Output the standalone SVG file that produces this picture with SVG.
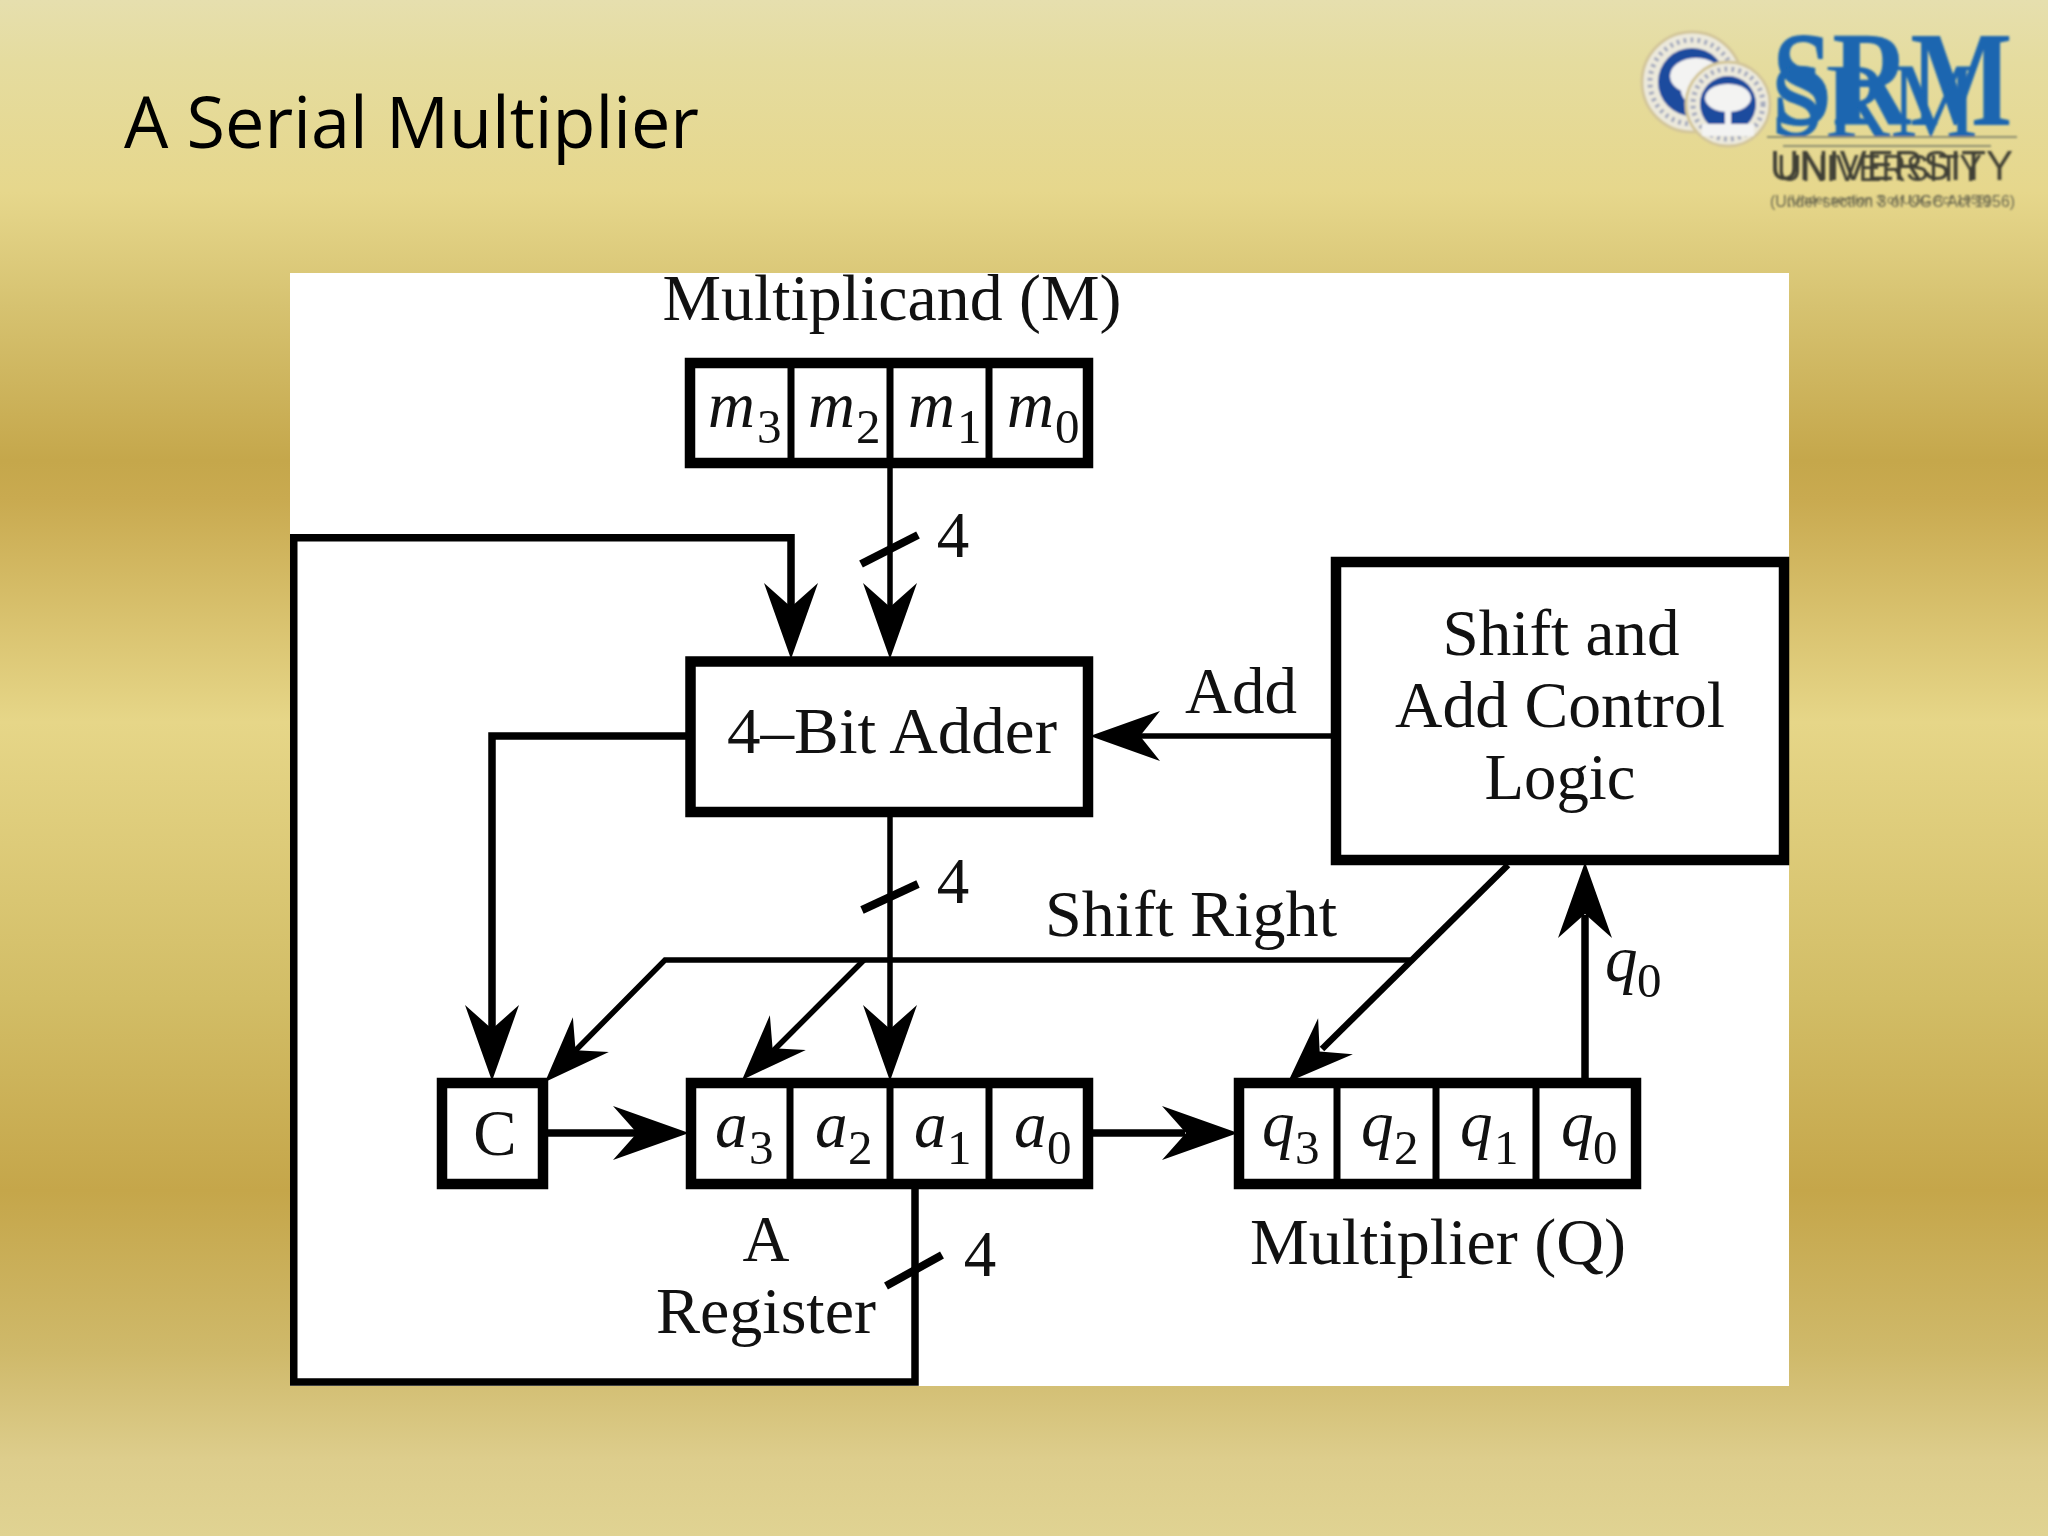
<svg xmlns="http://www.w3.org/2000/svg" width="2048" height="1536" viewBox="0 0 2048 1536">
<style>
.t{font-family:"Liberation Serif","Times New Roman",serif;font-size:65px;fill:#111;text-anchor:middle}
.i{font-family:"Liberation Serif","Times New Roman",serif;font-size:65px;font-style:italic;fill:#111}
.s{font-family:"Liberation Serif","Times New Roman",serif;font-size:49px;fill:#111}
.box{fill:#fff;stroke:#000;stroke-width:10.500}
.div{stroke:#000;stroke-width:7;fill:none}
.w{fill:none;stroke:#000;stroke-width:7.500}
.d{fill:none;stroke:#000;stroke-width:6.500}
.n{fill:none;stroke:#000;stroke-width:5.500}
.tick{fill:none;stroke:#000;stroke-width:8}
.srm{font-family:"Liberation Serif",serif;font-weight:bold;fill:#1a66b0}
.uni{font-family:"Liberation Sans",sans-serif;fill:#3f3f35}
.sec{font-family:"Liberation Sans",sans-serif;fill:#6a6850}
.ring{fill:#ece9dc;stroke:#d3c69a;stroke-width:3}
.mot{fill:none;stroke:#8f97b4;stroke-width:5;stroke-dasharray:3 4;opacity:.75}
.blue{fill:#1d4c9e}
.cloud{fill:#f3f3f2}
</style>
<defs>
<linearGradient id="bg" x1="0" y1="0" x2="0" y2="1">
<stop offset="0" stop-color="#e6dfae"/>
<stop offset="0.04" stop-color="#e5dc9f"/>
<stop offset="0.125" stop-color="#e6d78c"/>
<stop offset="0.2" stop-color="#d6c270"/>
<stop offset="0.3" stop-color="#c5a74b"/>
<stop offset="0.325" stop-color="#c9aa50"/>
<stop offset="0.47" stop-color="#e6d688"/>
<stop offset="0.65" stop-color="#d2bd66"/>
<stop offset="0.775" stop-color="#c5a64a"/>
<stop offset="0.88" stop-color="#cfb96a"/>
<stop offset="0.95" stop-color="#ddcd8c"/>
<stop offset="1" stop-color="#e0d392"/>
</linearGradient>
<polygon id="ah" points="0,0 -76,-27 -52,0 -76,27" fill="#000"/>
<polygon id="ah2" points="0,0 -70,-25 -50,0 -70,25" fill="#000"/>
<polygon id="ahd" points="0,0 -66,-25 -44,0 -66,25" fill="#000"/>
<filter id="soft" x="-5%" y="-5%" width="110%" height="110%"><feGaussianBlur stdDeviation="0.8"/></filter>
</defs>
<rect id="background" width="2048" height="1536" fill="url(#bg)"/>
<text id="title" x="124" y="148" font-family="'Open Sans','Noto Sans',sans-serif" font-size="71" fill="#000" textLength="575" lengthAdjust="spacingAndGlyphs">A Serial Multiplier</text>
<g id="logo" filter="url(#soft)">
<g id="seal-back"><circle class="ring" cx="1692" cy="82" r="50"/><circle class="mot" cx="1692" cy="82" r="42"/><circle class="blue" cx="1692" cy="82" r="34"/><ellipse class="cloud" cx="1696" cy="76" rx="26" ry="18"/><circle class="cloud" cx="1695" cy="90" r="14"/></g>
<g id="seal-front"><circle class="ring" cx="1728" cy="104" r="42"/><circle class="mot" cx="1728" cy="104" r="35"/><circle class="blue" cx="1728" cy="104" r="28"/><ellipse class="cloud" cx="1728" cy="98" rx="23" ry="14"/><rect class="cloud" x="1725" y="100" width="6" height="30"/><rect class="cloud" x="1702" y="124" width="52" height="12"/></g>
<text class="srm" transform="translate(1772,125) scale(.795,1)" font-size="136">SRM</text>
<text class="srm" style="font-weight:normal" transform="translate(1770,136) scale(.937,1)" font-size="105">SRM</text>
<rect x="1767" y="136" width="250" height="2" fill="#8f9070"/>
<rect x="1783" y="145" width="208" height="2" fill="#8f9070"/>
<text class="uni" x="1770" y="180" font-size="43" textLength="243" lengthAdjust="spacingAndGlyphs">UNIVERSITY</text>
<text class="uni" x="1777" y="181" font-size="36" textLength="205" lengthAdjust="spacingAndGlyphs">UNIVERSITY</text>
<text class="sec" x="1770" y="207" font-size="16" textLength="245" lengthAdjust="spacingAndGlyphs">(Under section 3 of UGC Act 1956)</text>
<text class="sec" x="1787" y="204" font-size="13" textLength="203" lengthAdjust="spacingAndGlyphs">(Under section 3 of UGC Act 1956)</text>
</g>
<rect id="panel" x="290" y="273" width="1499" height="1113" fill="#fff"/>
<g id="connectors">
<path class="w" d="M915,1185V1382H293.750V537.750H791V620"/>
<use href="#ah" transform="translate(791,659) rotate(90)"/>
<path class="n" d="M890,468V620"/>
<path class="tick" d="M861,564L918,535"/>
<use href="#ah" transform="translate(890,659) rotate(90)"/>
<path class="w" d="M690,736H492V1040"/>
<use href="#ah" transform="translate(492,1081) rotate(90)"/>
<path class="n" d="M1332,736H1130"/>
<use href="#ah2" transform="translate(1090,736) rotate(180)"/>
<path class="n" d="M890,815V1040"/>
<path class="tick" d="M862,910L918,884"/>
<use href="#ah" transform="translate(890,1081) rotate(90)"/>
<path class="n" d="M1410,960H665L575,1051"/>
<use href="#ahd" transform="translate(545,1082) rotate(134)"/>
<path class="n" d="M864,960L772,1052"/>
<use href="#ahd" transform="translate(742,1080) rotate(134)"/>
<path class="d" d="M1508,865L1322,1049"/>
<use href="#ahd" transform="translate(1288,1082) rotate(136)"/>
<path class="w" d="M1585,1080V915"/>
<use href="#ah" transform="translate(1585,862) rotate(-90)"/>
<path class="w" d="M548,1133H640"/>
<use href="#ah" transform="translate(689,1133)"/>
<path class="w" d="M1093,1133H1185"/>
<use href="#ah" transform="translate(1238,1133)"/>
<path class="tick" d="M886,1286L942,1255"/>
</g>
<g id="conn-labels">
<text class="t" x="953" y="557">4</text>
<text class="t" x="953" y="903">4</text>
<text class="t" x="980" y="1276">4</text>
<text class="t" x="1241" y="713">Add</text>
<text class="t" x="1191" y="936" textLength="292" lengthAdjust="spacingAndGlyphs">Shift Right</text>
<text class="i" x="1605" y="981">q</text><text class="s" x="1637" y="997">0</text>
</g>
<g id="label-multiplicand"><text class="t" x="892" y="320" textLength="459" lengthAdjust="spacingAndGlyphs">Multiplicand (M)</text></g>
<g id="register-m">
<rect class="box" x="690" y="363" width="398" height="100"/>
<path class="div" d="M791,363V463M890,363V463M989,363V463"/>
<text class="i" x="708" y="427">m</text><text class="s" x="757" y="443">3</text>
<text class="i" x="808" y="427">m</text><text class="s" x="856" y="443">2</text>
<text class="i" x="908" y="427">m</text><text class="s" x="957" y="443">1</text>
<text class="i" x="1007" y="427">m</text><text class="s" x="1055" y="443">0</text>
</g>
<g id="adder">
<rect class="box" x="690.500" y="661.500" width="397.500" height="150.500"/>
<text class="t" x="892" y="753" textLength="330" lengthAdjust="spacingAndGlyphs">4–Bit Adder</text>
</g>
<g id="control">
<rect class="box" x="1336" y="562" width="448" height="298"/>
<text class="t" x="1561" y="655" textLength="237" lengthAdjust="spacingAndGlyphs">Shift and</text>
<text class="t" x="1560" y="727" textLength="330" lengthAdjust="spacingAndGlyphs">Add Control</text>
<text class="t" x="1560" y="799" textLength="151" lengthAdjust="spacingAndGlyphs">Logic</text>
</g>
<g id="carry">
<rect class="box" x="442" y="1083" width="101" height="101"/>
<text class="t" x="495" y="1155">C</text>
</g>
<g id="register-a">
<rect class="box" x="691" y="1083" width="397" height="101"/>
<path class="div" d="M790,1083V1184M890,1083V1184M989,1083V1184"/>
<text class="i" x="715" y="1147">a</text><text class="s" x="749" y="1164">3</text>
<text class="i" x="815" y="1147">a</text><text class="s" x="848" y="1164">2</text>
<text class="i" x="914" y="1147">a</text><text class="s" x="947" y="1164">1</text>
<text class="i" x="1014" y="1147">a</text><text class="s" x="1047" y="1164">0</text>
<text class="t" x="766" y="1261">A</text>
<text class="t" x="766" y="1333" textLength="220" lengthAdjust="spacingAndGlyphs">Register</text>
</g>
<g id="register-q">
<rect class="box" x="1239" y="1083" width="397" height="101"/>
<path class="div" d="M1337,1083V1184M1436,1083V1184M1536,1083V1184"/>
<text class="i" x="1262" y="1146">q</text><text class="s" x="1295" y="1164">3</text>
<text class="i" x="1361" y="1146">q</text><text class="s" x="1394" y="1164">2</text>
<text class="i" x="1460" y="1146">q</text><text class="s" x="1494" y="1164">1</text>
<text class="i" x="1561" y="1146">q</text><text class="s" x="1593" y="1164">0</text>
<text class="t" x="1438" y="1264" textLength="376" lengthAdjust="spacingAndGlyphs">Multiplier (Q)</text>
</g>
</svg>
